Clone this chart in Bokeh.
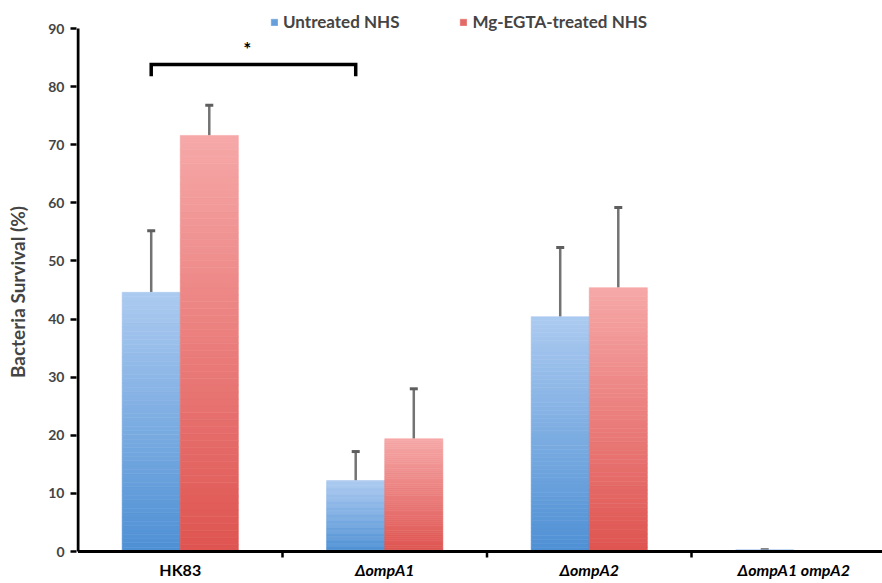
from bokeh.plotting import figure
from bokeh.models import (Range1d, FixedTicker, LinearAxis, Whisker, TeeHead,
                          ColumnDataSource, Legend, LegendItem)
from bokeh.core.properties import value
from bokeh.embed import file_html
from bokeh.resources import INLINE

# ---- data ----
categories = ["HK83", "\u0394ompA1", "\u0394ompA2", "\u0394ompA1 ompA2"]
category_italic = [False, True, True, True]
series_names = ["Untreated NHS", "Mg-EGTA-treated NHS"]
untreated = [44.6, 12.2, 40.4, 0.2]
untreated_err = [10.6, 5.0, 11.9, 0.1]
treated = [71.6, 19.4, 45.4, 0.0]
treated_err = [5.2, 8.6, 13.8, 0.0]
y_ticks = [0, 10, 20, 30, 40, 50, 60, 70, 80, 90]
y_max = 90
sig_pair = (0, 1)          # HK83 untreated vs ompA1 untreated
sig_low, sig_high = 81.8, 83.8
sig_star_y = 86.6

# ---- style / layout ----
FONT = "Lato"
W, H = 882, 583
px_per_unit = 5.811        # vertical scale (pixels per % unit)
zero_px = 551              # pixel row of y = 0
cat_px = 204.5             # pixels per category
left_px = 76               # frame left
axis_px = 77.5             # pixel column of x = 0
label_gap_px = 18          # category labels below the x axis
blue_top, blue_bot = (172, 202, 240), (78, 144, 212)
red_top, red_bot = (246, 168, 168), (222, 84, 80)
bar_w = 0.284
offsets = [-bar_w / 2, bar_w / 2]
N = 60

y_top = zero_px / px_per_unit
y_bottom = -(H - zero_px) / px_per_unit
x_start = -(axis_px - left_px) / cat_px
x_end = (W - axis_px) / cat_px
tick_len = 6 / px_per_unit

p = figure(width=W, height=H, output_backend="svg", toolbar_location=None,
           x_range=Range1d(x_start, x_end), y_range=Range1d(y_bottom, y_top),
           min_border_left=left_px, min_border_right=0, min_border_top=0,
           min_border_bottom=0, x_axis_type=None, y_axis_type=None)
p.outline_line_color = None
p.xgrid.visible = False
p.ygrid.visible = False
p.background_fill_color = "white"


def hexc(c):
    return "#%02x%02x%02x" % tuple(int(round(v)) for v in c)


def grad_bars(vals, off, top_c, bot_c):
    xs, bots, tops, cols = [], [], [], []
    for i, v in enumerate(vals):
        if v <= 0:
            continue
        for j in range(N):
            t = (j + 0.5) / N
            c = [bot_c[k] * (1 - t) + top_c[k] * t for k in range(3)]
            xs.append(i + 0.5 + off)
            bots.append(v * j / N)
            tops.append(v * (j + 1) / N)
            cols.append(hexc(c))
    src = ColumnDataSource(dict(x=xs, bottom=bots, top=tops, color=cols))
    return p.vbar(x="x", bottom="bottom", top="top", width=bar_w, source=src,
                  fill_color="color", line_color="color", line_width=0.6)


r_blue = grad_bars(untreated, offsets[0], blue_top, blue_bot)
r_red = grad_bars(treated, offsets[1], red_top, red_bot)

# error bars
for vals, errs, off in [(untreated, untreated_err, offsets[0]),
                        (treated, treated_err, offsets[1])]:
    b, lo, up = [], [], []
    for i, (v, e) in enumerate(zip(vals, errs)):
        if e > 0:
            b.append(i + 0.5 + off)
            lo.append(v)
            up.append(v + e)
    src = ColumnDataSource(dict(base=b, lower=lo, upper=up))
    w = Whisker(base="base", lower="lower", upper="upper", source=src,
                line_color="#737373", line_width=2.5, lower_head=None,
                upper_head=TeeHead(size=8, line_color="#5e5e5e", line_width=3))
    p.add_layout(w)

# axis lines (x axis at y=0, y axis from 0 to 90)
p.segment(x0=[0, 0], y0=[0, 0], x1=[x_end, 0], y1=[0, y_max],
          line_color="black", line_width=3)
# category boundary ticks
bounds = list(range(1, len(categories)))
p.segment(x0=bounds, y0=[0] * len(bounds), x1=bounds,
          y1=[-tick_len] * len(bounds), line_color="black", line_width=2.5)

# category labels
for it in (False, True):
    xs = [i + 0.5 for i, c in enumerate(categories) if category_italic[i] == it]
    ts = [c for i, c in enumerate(categories) if category_italic[i] == it]
    p.text(xs, [-label_gap_px / px_per_unit] * len(xs), text=ts,
           text_align="center", text_baseline="middle", text_font=value(FONT),
           text_font_style="bold italic" if it else "bold",
           text_font_size="16px", text_color="black")

# significance bracket
xa = sig_pair[0] + 0.5 + offsets[0]
xb = sig_pair[1] + 0.5 + offsets[0]
p.line([xa, xa, xb, xb], [sig_low, sig_high, sig_high, sig_low],
       line_color="black", line_width=3.5, line_join="miter")
p.text([(xa + xb) / 2 - 0.03], [sig_star_y], text=["*"], text_align="center",
       text_baseline="middle", text_font=value(FONT), text_font_style="bold",
       text_font_size="19px", text_color="black")

# y axis (library axis; its line replaced by the segment above)
yax = LinearAxis(ticker=FixedTicker(ticks=y_ticks))
yax.axis_line_color = None
yax.major_tick_out = 6
yax.major_tick_in = 0
yax.major_tick_line_width = 2.5
yax.minor_tick_line_color = None
yax.major_label_text_font = FONT
yax.major_label_text_font_style = "bold"
yax.major_label_text_font_size = "14px"
yax.major_label_standoff = 6
yax.axis_label = "Bacteria Survival (%)"
yax.axis_label_text_font = FONT
yax.axis_label_text_font_style = "bold"
yax.axis_label_text_font_size = "19px"
yax.axis_label_standoff = 16
p.add_layout(yax, "left")

# legend (swatches taken from the bar renderers)
legend = Legend(items=[LegendItem(label=series_names[0], renderers=[r_blue], index=N // 4),
                       LegendItem(label=series_names[1], renderers=[r_red], index=N // 4)],
                orientation="horizontal", location=(194, 551),
                glyph_width=8, glyph_height=8, label_standoff=5, spacing=60,
                padding=0, margin=0, border_line_color=None,
                background_fill_alpha=0, label_text_font=FONT,
                label_text_font_style="bold", label_text_font_size="17px",
                label_height=14)
p.add_layout(legend, "center")

open("out.html", "w").write(file_html(p, INLINE))
